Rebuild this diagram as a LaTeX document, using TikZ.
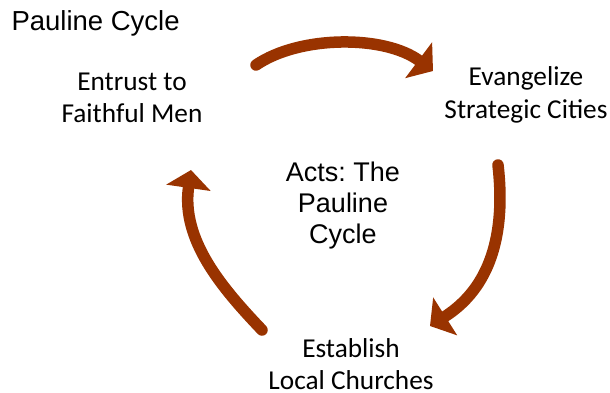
\documentclass[tikz,border=0pt]{standalone}
\usepackage{fontspec}
\setmainfont{Carlito}
\newfontfamily\arialfont{Liberation Sans}
\usetikzlibrary{arrows.meta}
\definecolor{rust}{RGB}{153,51,0}
\frenchspacing

\begin{document}
\begin{tikzpicture}[x=1pt,y=-1pt,
stagelabel/.style={align=center,font=\fontsize{27.3}{32.5}\selectfont},
actslabel/.style={align=center,font=\arialfont\fontsize{27}{31}\selectfont},
cyclearrow/.style={draw=rust,line width=11.5pt,line cap=round,
  -{Triangle[width=44pt,length=18pt]}}]
\useasboundingbox (0,0) rectangle (610,392);
\node[anchor=base west,font=\arialfont\fontsize{27.5}{32}\selectfont] (title) at (8,30) {Pauline Cycle};
\node[stagelabel] (entrust) at (132,98) {Entrust to\\Faithful Men};
\node[stagelabel] (evangelize) at (526,95) {Evangelize\\Strategic Cities};
\node[stagelabel] (establish) at (351,364) {Establish\\Local Churches};
\node[actslabel] (acts) at (343,206) {Acts: The\\Pauline\\Cycle};
% arrow ends
\coordinate (entrustOut) at (256,65);
\coordinate (evangelizeIn) at (433,71);
\coordinate (evangelizeOut) at (498,165);
\coordinate (establishIn) at (430,326);
\coordinate (establishOut) at (262,330);
\coordinate (entrustIn) at (191,170);
\draw[cyclearrow] (entrustOut) .. controls (300,35) and (385,35) .. (evangelizeIn);
\draw[cyclearrow] (evangelizeOut) .. controls (506,235) and (490,288) .. (establishIn);
\draw[cyclearrow] (establishOut) .. controls (222,288) and (181,240) .. (entrustIn);
\end{tikzpicture}
\end{document}
